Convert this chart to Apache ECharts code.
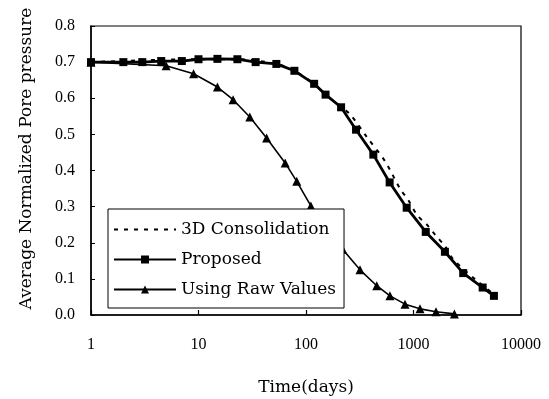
<!DOCTYPE html>
<html>
<head>
<meta charset="utf-8">
<script src="https://cdn.jsdelivr.net/npm/echarts@6/dist/echarts.min.js"></script>
<style>html,body{margin:0;padding:0;background:#fff;}#c{width:549px;height:399px;}</style>
</head>
<body>
<div id="c"></div>
<script>
var seriesNames = ['3D Consolidation', 'Proposed', 'Using Raw Values'];

var timeConsolidation = [1, 10, 23, 53, 78, 119, 152, 212, 260, 367, 543, 748, 895, 1084, 1327, 1620, 1963, 2346, 3873, 5600];
var valueConsolidation = [0.700, 0.708, 0.708, 0.695, 0.676, 0.640, 0.610, 0.576, 0.554, 0.493, 0.426, 0.350, 0.318, 0.276, 0.251, 0.219, 0.191, 0.154, 0.095, 0.058];

var timeProposed = [1, 2, 3, 4.5, 7, 10, 15, 23, 34, 53, 78, 119, 152, 212, 292, 423, 600, 864, 1300, 1960, 2900, 4400, 5600];
var valueProposed = [0.700, 0.700, 0.700, 0.703, 0.703, 0.708, 0.709, 0.708, 0.700, 0.695, 0.676, 0.640, 0.610, 0.575, 0.513, 0.444, 0.367, 0.297, 0.230, 0.175, 0.116, 0.076, 0.053];

var timeRaw = [1, 5, 9, 15, 21, 30, 43, 64, 82, 111, 219, 318, 455, 604, 834, 1150, 1620, 2400];
var valueRaw = [0.700, 0.690, 0.668, 0.631, 0.596, 0.548, 0.490, 0.421, 0.370, 0.302, 0.182, 0.125, 0.081, 0.053, 0.030, 0.017, 0.009, 0.003];

var xTickValues = [1, 10, 100, 1000, 10000];
var yTickLabels = ['0.0', '0.1', '0.2', '0.3', '0.4', '0.5', '0.6', '0.7', '0.8'];

function pairs(t, v) { return t.map(function (x, i) { return [x, v[i]]; }); }

var chart = echarts.init(document.getElementById('c'), null, { renderer: 'canvas' });
chart.setOption({
  animation: false,
  backgroundColor: '#fff',
  grid: { left: 91, top: 26, right: 28, bottom: 84, outerBoundsMode: 'none', containLabel: false,
    show: true, borderColor: '#000', borderWidth: 1.2, backgroundColor: 'transparent' },
  legend: {
    orient: 'vertical',
    left: 108, top: 209,
    data: [
      { name: seriesNames[0], itemStyle: { color: 'rgba(0,0,0,0)', borderColor: 'rgba(0,0,0,0)', borderWidth: 0 } },
      { name: seriesNames[1] },
      { name: seriesNames[2] }
    ],
    backgroundColor: '#fff',
    borderColor: '#000', borderWidth: 1,
    padding: [12, 8, 10, 5],
    itemWidth: 62, itemHeight: 10, itemGap: 13,
    textStyle: { fontFamily: 'DejaVu Serif', fontSize: 17, color: '#000' }
  },
  xAxis: {
    type: 'log', logBase: 10, min: 1, max: 10000,
    name: 'Time(days)', nameLocation: 'middle', nameGap: 64,
    nameTextStyle: { fontFamily: 'DejaVu Serif', fontSize: 17, color: '#000' },
    axisLine: { lineStyle: { color: '#000', width: 1.5 } },
    axisTick: { inside: true, length: 5, lineStyle: { color: '#000', width: 1.2 } },
    minorTick: { show: false },
    splitLine: { show: false },
    axisLabel: { margin: 22, fontFamily: 'Liberation Serif', fontSize: 16, color: '#000',
      formatter: function (v) { return xTickValues.indexOf(Math.round(v)) >= 0 ? String(Math.round(v)) : ''; } }
  },
  yAxis: {
    type: 'value', min: 0, max: 0.8, interval: 0.1,
    name: 'Average Normalized Pore pressure', nameLocation: 'middle', nameGap: 56, nameRotate: 90,
    nameTextStyle: { fontFamily: 'DejaVu Serif', fontSize: 17, color: '#000', padding: [0, 0, 0, 24] },
    axisLine: { show: true, lineStyle: { color: '#000', width: 1.5 } },
    axisTick: { show: true, inside: true, length: 4, lineStyle: { color: '#000', width: 1 } },
    splitLine: { show: false },
    axisLabel: { margin: 16, fontFamily: 'Liberation Serif', fontSize: 16, color: '#000',
      formatter: function (v) { return yTickLabels[Math.round(v * 10)]; } }
  },
  series: [
    {
      name: seriesNames[0], type: 'line', data: pairs(timeConsolidation, valueConsolidation),
      symbol: 'circle', showSymbol: false, smooth: 0.3,
      lineStyle: { color: '#000', width: 2, type: [4, 6] }, itemStyle: { color: '#000' }, z: 2
    },
    {
      name: seriesNames[1], type: 'line', data: pairs(timeProposed, valueProposed),
      symbol: 'rect', symbolSize: 8, showSymbol: true,
      lineStyle: { color: '#000', width: 2.8 }, itemStyle: { color: '#000' }, z: 3
    },
    {
      name: seriesNames[2], type: 'line', data: pairs(timeRaw, valueRaw),
      symbol: 'triangle', symbolSize: 9, showSymbol: true,
      lineStyle: { color: '#000', width: 1.6 }, itemStyle: { color: '#000' }, z: 3
    }
  ]
});
</script>
</body>
</html>
